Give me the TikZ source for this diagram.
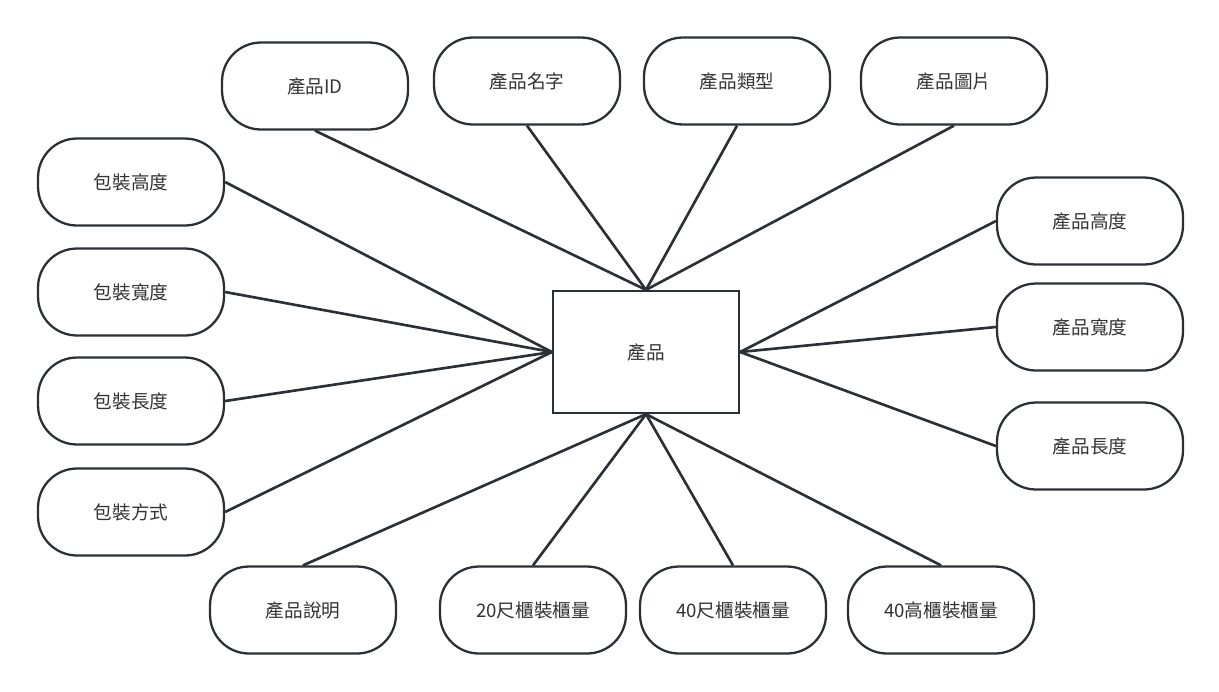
\documentclass[tikz,border=0pt]{standalone}
\usepackage{fontspec}
\setmainfont{Noto Sans CJK TC}
\usepackage{xcolor}
\usepackage{tikz}
\usetikzlibrary{positioning}

\definecolor{ink}{HTML}{2B3036}
\definecolor{txt}{HTML}{333333}

\begin{document}
\begin{tikzpicture}[x=0.02cm, y=-0.02cm,
      font=\fontsize{10.6pt}{12pt}\selectfont, text=txt,
      attr/.style={draw=ink, line width=1.3pt, rounded corners=0.78cm, align=center,
        minimum width=3.72cm, minimum height=1.74cm, inner sep=0pt},
      ent/.style={draw=ink, line width=1.3pt, align=center,
        minimum width=3.72cm, minimum height=2.44cm, inner sep=0pt},
      ln/.style={draw=ink, line width=1.5pt}]
    \useasboundingbox (0,0) rectangle (1219,691);
    \node[ent] (prod) at (646,352) {產品};
    % top row
    \node[attr] (id) at (315,86) {產品ID};
    \node[attr] (name) at (527,81) {產品名字};
    \node[attr] (type) at (737,81) {產品類型};
    \node[attr] (pic) at (954,81) {產品圖片};
    % left column
    \node[attr] (ph) at (131,182) {包裝高度};
    \node[attr] (pw) at (131,292) {包裝寬度};
    \node[attr] (pl) at (131,401) {包裝長度};
    \node[attr] (pm) at (131,512) {包裝方式};
    % right column
    \node[attr] (h) at (1090,221) {產品高度};
    \node[attr] (w) at (1090,327) {產品寬度};
    \node[attr] (l) at (1090,446) {產品長度};
    % bottom row
    \node[attr] (desc) at (303,610) {產品說明};
    \node[attr] (c20) at (533,610) {20尺櫃裝櫃量};
    \node[attr] (c40) at (733,610) {40尺櫃裝櫃量};
    \node[attr] (c40h) at (941,610) {40高櫃裝櫃量};
    \draw[ln] (id.south) -- (prod.north); \draw[ln] (name.south) -- (prod.north);
    \draw[ln] (type.south) -- (prod.north); \draw[ln] (pic.south) -- (prod.north);
    \draw[ln] (ph.east) -- (prod.west); \draw[ln] (pw.east) -- (prod.west);
    \draw[ln] (pl.east) -- (prod.west); \draw[ln] (pm.east) -- (prod.west);
    \draw[ln] (h.west) -- (prod.east); \draw[ln] (w.west) -- (prod.east);
    \draw[ln] (l.west) -- (prod.east);
    \draw[ln] (desc.north) -- (prod.south); \draw[ln] (c20.north) -- (prod.south);
    \draw[ln] (c40.north) -- (prod.south); \draw[ln] (c40h.north) -- (prod.south);
  \end{tikzpicture}
\end{document}
